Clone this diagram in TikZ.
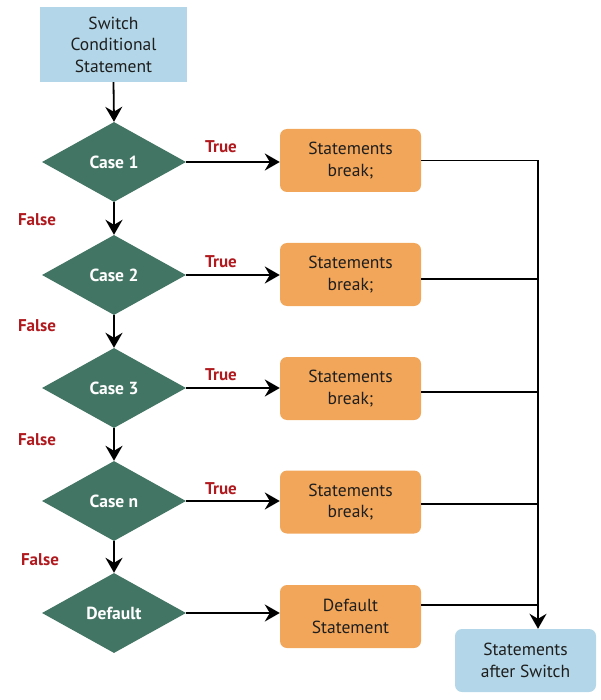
\documentclass[tikz,border=0pt]{standalone}
\usepackage{fontspec}
\setmainfont{PT Sans}
\usetikzlibrary{shapes.geometric,arrows.meta}
\definecolor{lblue}{HTML}{B3D7E8}
\definecolor{dteal}{HTML}{437564}
\definecolor{orng}{HTML}{F2A65A}
\definecolor{dred}{HTML}{B0191E}
\definecolor{txt}{HTML}{1E1E1E}
\tikzset{
  startbox/.style={rectangle, fill=lblue, minimum width=147pt, minimum height=75pt, inner sep=0pt, align=center, font=\fontsize{17.5}{21.5}\selectfont, text=txt},
  endbox/.style={rectangle, rounded corners=7pt, fill=lblue, minimum width=141pt, minimum height=63pt, inner sep=0pt, align=center, font=\fontsize{17.5}{21.5}\selectfont, text=txt},
  stmtbox/.style={rectangle, rounded corners=7pt, fill=orng, minimum width=141pt, minimum height=63pt, inner sep=0pt, align=center, font=\fontsize{17.5}{21.5}\selectfont, text=txt},
  casebox/.style={diamond, fill=dteal, minimum width=144pt, minimum height=80pt, inner sep=0pt, text=white, font=\fontsize{17.5}{20}\selectfont\bfseries},
  lbl/.style={text=dred, font=\fontsize{17}{20}\selectfont\bfseries, inner sep=0pt},
  conn/.style={line width=1.8pt, draw=black},
  arr/.style={conn, -{Stealth[length=15pt,width=17pt,inset=5pt]}},
}
\begin{document}
\begin{tikzpicture}[x=1pt,y=-1pt]
\useasboundingbox (0,0) rectangle (600,700);
\node[startbox] (start) at (113.5,44.5) {Switch\\Conditional\\Statement};
\node[casebox] (d1) at (114,162) {Case 1};
\node[casebox] (d2) at (114,275) {Case 2};
\node[casebox] (d3) at (114,388) {Case 3};
\node[casebox] (d4) at (114,501) {Case n};
\node[casebox] (d5) at (114,613) {Default};
\node[stmtbox] (b1) at (350.5,160.5) {Statements\\break;};
\node[stmtbox] (b2) at (350.5,274.5) {Statements\\break;};
\node[stmtbox] (b3) at (350.5,388.5) {Statements\\break;};
\node[stmtbox] (b4) at (350.5,502) {Statements\\break;};
\node[stmtbox] (b5) at (350.5,616.5) {Default\\Statement};
\node[endbox] (end) at (525.5,660.5) {Statements\\after Switch};
\coordinate (j1) at (538,161);
% vertical flow
\draw[arr] (start.south) -- (d1.north);
\draw[arr] (d1.south) -- (d2.north);
\draw[arr] (d2.south) -- (d3.north);
\draw[arr] (d3.south) -- (d4.north);
\draw[arr] (d4.south) -- (d5.north);
% true arrows
\draw[arr] (d1.east) -- (d1.east -| b1.west);
\draw[arr] (d2.east) -- (d2.east -| b2.west);
\draw[arr] (d3.east) -- (d3.east -| b3.west);
\draw[arr] (d4.east) -- (d4.east -| b4.west);
\draw[arr] (d5.east) -- (d5.east -| b5.west);
% merge lines
\draw[conn] (b1.east) -- (b1.east -| j1);
\draw[conn] ([yshift=-4.5pt]b2.east) -- ([yshift=-4.5pt]b2.east -| j1);
\draw[conn] ([yshift=-3.5pt]b3.east) -- ([yshift=-3.5pt]b3.east -| j1);
\draw[conn] ([yshift=-2pt]b4.east) -- ([yshift=-2pt]b4.east -| j1);
\draw[conn] ([yshift=11.5pt]b5.east) -- ([yshift=11.5pt]b5.east -| j1);
\draw[arr] ([yshift=0.9pt]j1) -- (j1 |- end.north);
% labels
\node[lbl] (t1) at (221,147) {True};
\node[lbl] (t2) at (221,262) {True};
\node[lbl] (t3) at (221,375) {True};
\node[lbl] (t4) at (221,489) {True};
\node[lbl] (f1) at (37,220) {False};
\node[lbl] (f2) at (37,326) {False};
\node[lbl] (f3) at (37,440) {False};
\node[lbl] (f4) at (40,560) {False};
\end{tikzpicture}
\end{document}
